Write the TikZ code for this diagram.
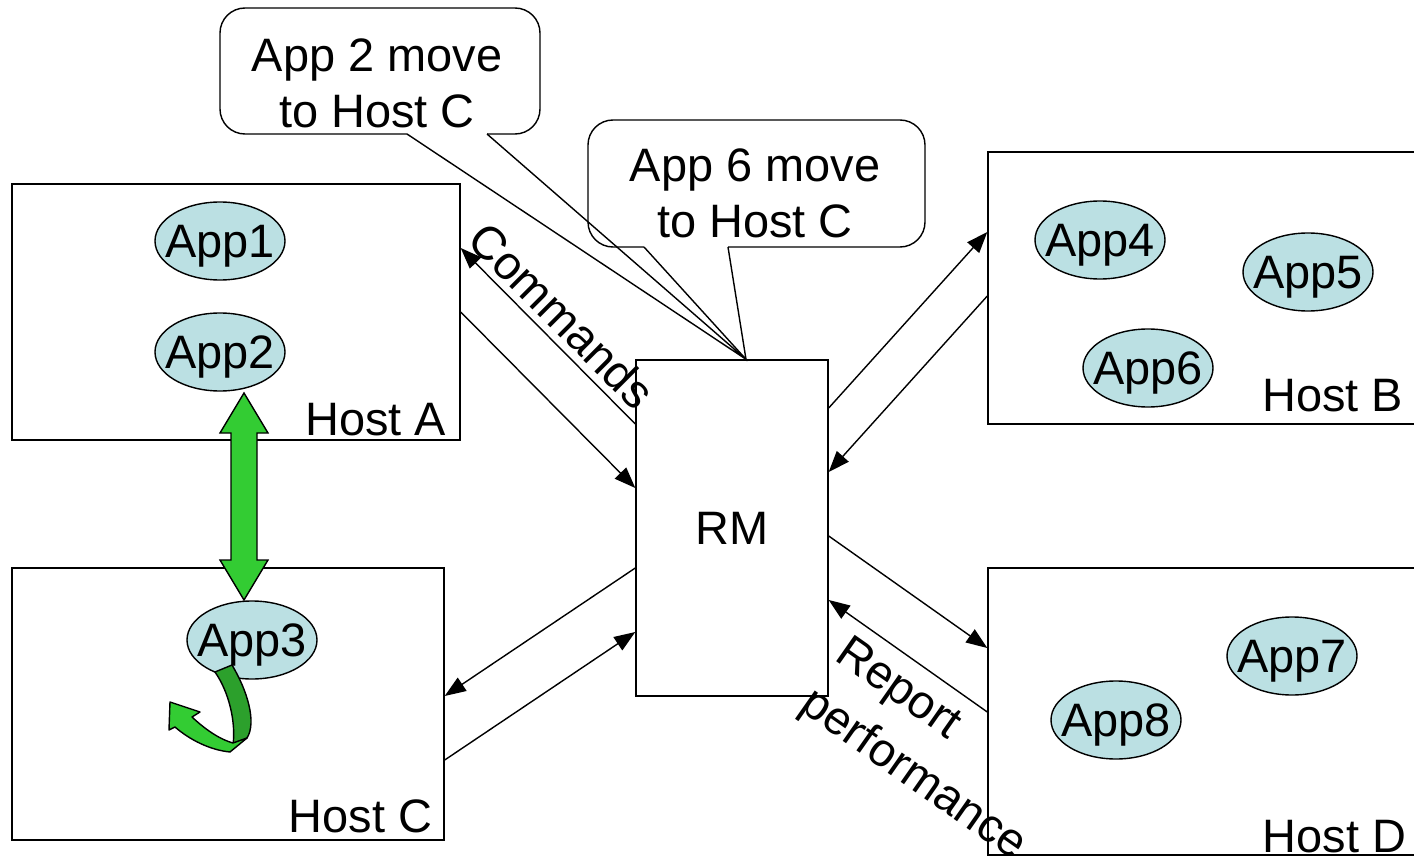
\documentclass[tikz,border=0pt]{standalone}
\usepackage{fontspec}
\setmainfont{Liberation Sans}
\usetikzlibrary{arrows.meta,shapes.geometric,calc}
\definecolor{appfill}{HTML}{BBE0E3}
\definecolor{movegreen}{HTML}{33CC33}
\definecolor{movedark}{HTML}{2CA02C}
\newcommand{\pxu}{0.02cm}
\begin{document}
\begin{tikzpicture}[x=0.02cm, y=-0.02cm, line width=0.8pt,
  font=\fontsize{26.7}{31.9}\selectfont,
  hostbox/.style={draw, rectangle, inner sep=0pt},
  app/.style={draw, ellipse, fill=appfill, inner xsep=-13*\pxu, inner ysep=0pt,
              text depth=0pt, minimum width=130*\pxu, minimum height=78*\pxu},
  hostlabel/.style={inner sep=0pt, anchor=base east},
  link/.style={-{Triangle[length=12pt,width=9pt]}},
  bubble/.style={draw, rounded corners=0.5cm},
  ]
\useasboundingbox (0,0) rectangle (1414,858);
\clip (0,0) rectangle (1414,858);

% hosts and the resource manager
\node[hostbox, minimum width=448*\pxu, minimum height=256*\pxu] (hostA) at (236,312) {};
\node[hostbox, minimum width=432*\pxu, minimum height=272*\pxu] (hostC) at (228,704) {};
\node[hostbox, minimum width=442*\pxu, minimum height=272*\pxu] (hostB) at (1209,288) {};
\node[hostbox, minimum width=442*\pxu, minimum height=287*\pxu] (hostD) at (1209,711.5) {};
\node[hostbox, minimum width=192*\pxu, minimum height=336*\pxu] (rm) at (732,528) {RM};

\node[hostlabel] (labA) at (447,436) {Host A};
\node[hostlabel] (labC) at (433,832) {Host C};
\node[hostlabel] (labB) at (1404,412) {Host B};
\node[hostlabel] (labD) at (1407,852) {Host D};

% applications
\node[app] (app1) at (220,241) {App1};
\node[app] (app2) at (220,352) {App2};
\node[app] (app3) at (252,640) {App3};
\node[app] (app4) at (1100,240) {App4};
\node[app] (app5) at (1308,272) {App5};
\node[app] (app6) at (1148,368) {App6};
\node[app] (app7) at (1292,656) {App7};
\node[app] (app8) at (1116,720) {App8};

% commands and reports between RM and the hosts
\draw[link] ($(rm.west)+(0,-104)$) -- ($(hostA.east)+(0,-64)$);
\draw[link] (hostA.east) -- ($(rm.west)+(0,-40)$);
\draw[link] ($(rm.west)+(0,40)$) -- ($(hostC.east)+(0,-8)$);
\draw[link] ($(hostC.east)+(0,56)$) -- ($(rm.west)+(0,104)$);
\draw[link] ($(rm.east)+(0,-120)$) -- ($(hostB.west)+(0,-56)$);
\draw[link] ($(hostB.west)+(0,8)$) -- ($(rm.east)+(0,-56)$);
\draw[link] ($(rm.east)+(0,8)$) -- ($(hostD.west)+(0,-63.5)$);
\draw[link] ($(hostD.west)+(0,0.5)$) -- ($(rm.east)+(0,72)$);

\node[rotate=-45] (cmdlabel) at (562,315) {Commands};
\node[rotate=-35, align=left, font=\fontsize{26.7}{35}\selectfont]
  (replabel) at (930,751) {Report\\performance};

% migration of App2 to Host C
\draw[fill=movegreen, line join=miter]
  (244,393) -- (268,433) -- (257,433) -- (257,560) -- (268,560) -- (244,600)
  -- (220,560) -- (231,560) -- (231,433) -- (220,433) -- cycle;

% restart arrow under App3
\draw[fill=movedark, line join=round]
  (215,672) -- (232,665) .. controls (247,690) and (257,722) .. (247,738)
  -- (233,745) .. controls (236,722) and (229,692) .. (215,672) -- cycle;
\draw[fill=movegreen, line join=round]
  (170,702) -- (200,712) -- (192,717) .. controls (208,732) and (222,740) .. (233,743)
  -- (247,738) -- (230,752) .. controls (210,750) and (190,740) .. (175,727)
  -- (169,730) -- cycle;

% speech bubbles pointing at RM
\coordinate (tip) at ($(rm.north)+(14,0)$);
\draw[bubble] (728,247) -- (925,247) -- (925,120) -- (588,120) -- (588,247) -- (644,247);
\draw (644,247) -- (tip) -- (728,247);
\node[align=center] (note6) at (755,193) {App 6 move\\to Host C};

\draw[bubble] (487,134) -- (540,134) -- (540,8) -- (220,8) -- (220,134) -- (407,134);
\draw (407,134) -- (tip) -- (487,134);
\node[align=center] (note2) at (377,83) {App 2 move\\to Host C};
\end{tikzpicture}
\end{document}
